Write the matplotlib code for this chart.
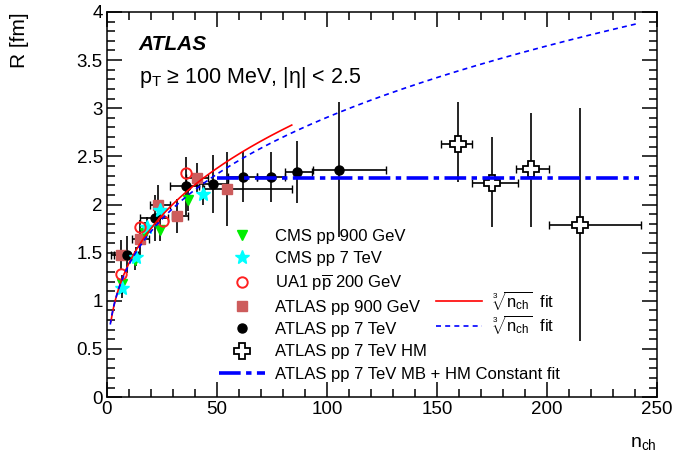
import numpy as np
import matplotlib
matplotlib.use("Agg")
import matplotlib.pyplot as plt
from matplotlib.lines import Line2D
from matplotlib.ticker import MultipleLocator, FormatStrFormatter

plt.rcParams['font.family'] = ['Liberation Sans', 'DejaVu Sans']
plt.rcParams['mathtext.fontset'] = 'custom'
plt.rcParams['mathtext.rm'] = 'Liberation Sans'
plt.rcParams['mathtext.it'] = 'Liberation Sans:italic'
plt.rcParams['mathtext.bf'] = 'Liberation Sans:bold'

# ---- data ----
cms900_n = [6.9, 12.7, 17.3, 24.2, 37.0]
cms900_R = [1.17, 1.42, 1.70, 1.74, 2.05]
cms900_err = [0.10, 0.10, 0.12, 0.12, 0.12]

cms7_n = [7.0, 13.3, 18.0, 24.3, 43.8]
cms7_R = [1.13, 1.46, 1.77, 1.94, 2.11]
cms7_err = [0.10, 0.10, 0.10, 0.10, 0.12]

ua1_n = [6.2, 15.2, 25.6, 36.0]
ua1_R = [1.28, 1.77, 1.83, 2.33]

atlas900_n = [6.2, 15.0, 23.3, 31.9, 40.8, 54.5]
atlas900_R = [1.48, 1.64, 2.00, 1.88, 2.28, 2.16]
atlas900_yerr = [0.15, 0.20, 0.20, 0.18, 0.15, 0.38]
atlas900_xlo = [2.0, 11.5, 19.5, 29.4, 36.0, 44.0]
atlas900_xhi = [10.0, 19.0, 28.6, 37.0, 46.0, 84.0]

atlas7_n = [9.0, 21.8, 36.0, 48.3, 61.7, 74.4, 86.5, 105.5]
atlas7_R = [1.48, 1.86, 2.19, 2.21, 2.29, 2.29, 2.34, 2.36]
atlas7_yerr = [0.19, 0.24, 0.30, 0.30, 0.26, 0.26, 0.32, 0.70]
atlas7_xlo = [3.0, 15.0, 28.6, 42.0, 55.0, 68.0, 81.0, 93.6]
atlas7_xhi = [14.0, 27.7, 42.0, 55.0, 68.0, 81.0, 93.0, 127.0]

hm_n = [159.5, 175.0, 193.0, 215.0]
hm_R = [2.63, 2.22, 2.37, 1.79]
hm_ylo = [2.23, 1.77, 1.77, 0.58]
hm_yhi = [3.06, 2.70, 2.95, 3.00]
hm_xlo = [152.0, 166.0, 186.0, 201.0]
hm_xhi = [166.0, 187.0, 201.0, 243.0]

# fit parameters  R = a + b * n^(1/3)
fit_mb_a, fit_mb_b, fit_mb_range = 0.0, 0.645, (1.8, 84.0)
fit_all_a, fit_all_b, fit_all_range = 0.05, 0.615, (1.5, 241.0)
const_R, const_range = 2.28, (50.0, 242.0)

fig = plt.figure(figsize=(6.9, 4.57), dpi=100)
ax = fig.add_axes([0.155, 0.131, 0.797, 0.843])

def asym(c, lo, hi):
    c = np.asarray(c); return [c - np.asarray(lo), np.asarray(hi) - c]

# error bars
ekw = dict(ecolor='black', elinewidth=1.2, fmt='none', zorder=2)
ax.errorbar(atlas900_n, atlas900_R, xerr=asym(atlas900_n, atlas900_xlo, atlas900_xhi),
            capsize=3, **ekw)
ax.errorbar(atlas900_n, atlas900_R, yerr=atlas900_yerr, capsize=0, **ekw)
ax.errorbar(atlas7_n, atlas7_R, xerr=asym(atlas7_n, atlas7_xlo, atlas7_xhi),
            capsize=3, **ekw)
ax.errorbar(atlas7_n, atlas7_R, yerr=atlas7_yerr, capsize=0, **ekw)
ax.errorbar(cms900_n, cms900_R, yerr=cms900_err, capsize=0, **ekw)
ax.errorbar(cms7_n, cms7_R, yerr=cms7_err, capsize=0, **ekw)
ax.errorbar(hm_n, hm_R, xerr=asym(hm_n, hm_xlo, hm_xhi), capsize=3, **ekw)
ax.errorbar(hm_n, hm_R, yerr=asym(hm_R, hm_ylo, hm_yhi), capsize=0, **ekw)

# markers
ax.plot(atlas900_n, atlas900_R, 's', color='#cd5c5c', ms=6.5, ls='none', zorder=3)
ax.plot(atlas7_n, atlas7_R, 'o', color='black', ms=6.5, ls='none', zorder=3)
ax.plot(cms900_n, cms900_R, 'v', color='#00ee00', ms=7.5, ls='none', zorder=3)
ax.plot(cms7_n, cms7_R, '*', color='#00ffff', ms=10, ls='none', zorder=3)
ax.plot(ua1_n, ua1_R, 'o', mfc='none', mec='#ff2020', mew=1.4, ms=7.5, ls='none', zorder=3)
ax.plot(hm_n, hm_R, 'P', mfc='white', mec='black', mew=1.3, ms=11, ls='none', zorder=4)

# fits
n1 = np.linspace(*fit_mb_range, 300)
ax.plot(n1, fit_mb_a + fit_mb_b * np.cbrt(n1), color='red', lw=1.2, zorder=5)
n2 = np.linspace(*fit_all_range, 400)
ax.plot(n2, fit_all_a + fit_all_b * np.cbrt(n2), color='blue', lw=1.2,
        ls=(0, (3, 2.5)), zorder=5)
ax.plot(const_range, [const_R, const_R], color='blue', lw=2.6,
        ls=(0, (6, 1.5, 1.5, 1.5)), zorder=5)

# axes
ax.set_xlim(0, 250)
ax.set_ylim(0, 4)
ax.xaxis.set_major_locator(MultipleLocator(50))
ax.xaxis.set_minor_locator(MultipleLocator(10))
ax.yaxis.set_major_locator(MultipleLocator(0.5))
ax.yaxis.set_minor_locator(MultipleLocator(0.1))
ax.yaxis.set_major_formatter(FormatStrFormatter('%g'))
ax.tick_params(which='both', direction='in', top=True, right=True, width=1.1,
               labelsize=13.5)
ax.tick_params(which='major', length=11)
ax.tick_params(which='minor', length=6)
ax.tick_params(axis='x', pad=3)
ax.tick_params(axis='y', pad=3)
for s in ax.spines.values():
    s.set_linewidth(1.1)

ax.set_ylabel('R [fm]', loc='top', fontsize=15, labelpad=34)
ax.set_xlabel(r'n$_{\mathrm{ch}}$', loc='right', fontsize=14, labelpad=12)

ax.text(0.058, 0.915, 'ATLAS', transform=ax.transAxes, fontsize=15,
        fontweight='bold', fontstyle='italic', va='center')
ax.text(0.058, 0.83, r'p$_{\mathrm{T}}$ ≥ 100 MeV, |η| < 2.5',
        transform=ax.transAxes, fontsize=15.5, va='center')

h1 = [
    Line2D([], [], marker='v', color='#00ee00', ls='none', ms=7.5),
    Line2D([], [], marker='*', color='#00ffff', ls='none', ms=10),
    Line2D([], [], marker='o', mfc='none', mec='#ff2020', mew=1.4, ls='none', ms=7.5),
    Line2D([], [], marker='s', color='#cd5c5c', ls='none', ms=6.5),
    Line2D([], [], marker='o', color='black', ls='none', ms=6.5),
    Line2D([], [], marker='P', mfc='white', mec='black', mew=1.3, ls='none', ms=11),
    Line2D([], [], color='blue', lw=2.6, ls=(0, (6, 1.5, 1.5, 1.5))),
]
l1 = ['CMS pp 900 GeV', 'CMS pp 7 TeV', r'UA1 p$\overline{\mathrm{p}}$ 200 GeV',
      'ATLAS pp 900 GeV', 'ATLAS pp 7 TeV', 'ATLAS pp 7 TeV HM',
      'ATLAS pp 7 TeV MB + HM Constant fit']
leg1 = ax.legend(h1, l1, loc='upper left', bbox_to_anchor=(0.191, 0.455),
                 frameon=False, fontsize=12, handlelength=2.76, handletextpad=0.6,
                 labelspacing=0.43, borderaxespad=0)
ax.add_artist(leg1)

h2 = [Line2D([], [], color='red', lw=1.2),
      Line2D([], [], color='blue', lw=1.2, ls=(0, (3, 2.5)))]
l2 = [r'$\sqrt[3]{\mathrm{n}_{\mathrm{ch}}}$  fit', r'$\sqrt[3]{\mathrm{n}_{\mathrm{ch}}}$  fit']
ax.legend(h2, l2, loc='upper left', bbox_to_anchor=(0.587, 0.299),
          frameon=False, fontsize=12, handlelength=2.76, handletextpad=0.6,
          labelspacing=0.1, borderaxespad=0)

fig.savefig('out.png', dpi=100)
